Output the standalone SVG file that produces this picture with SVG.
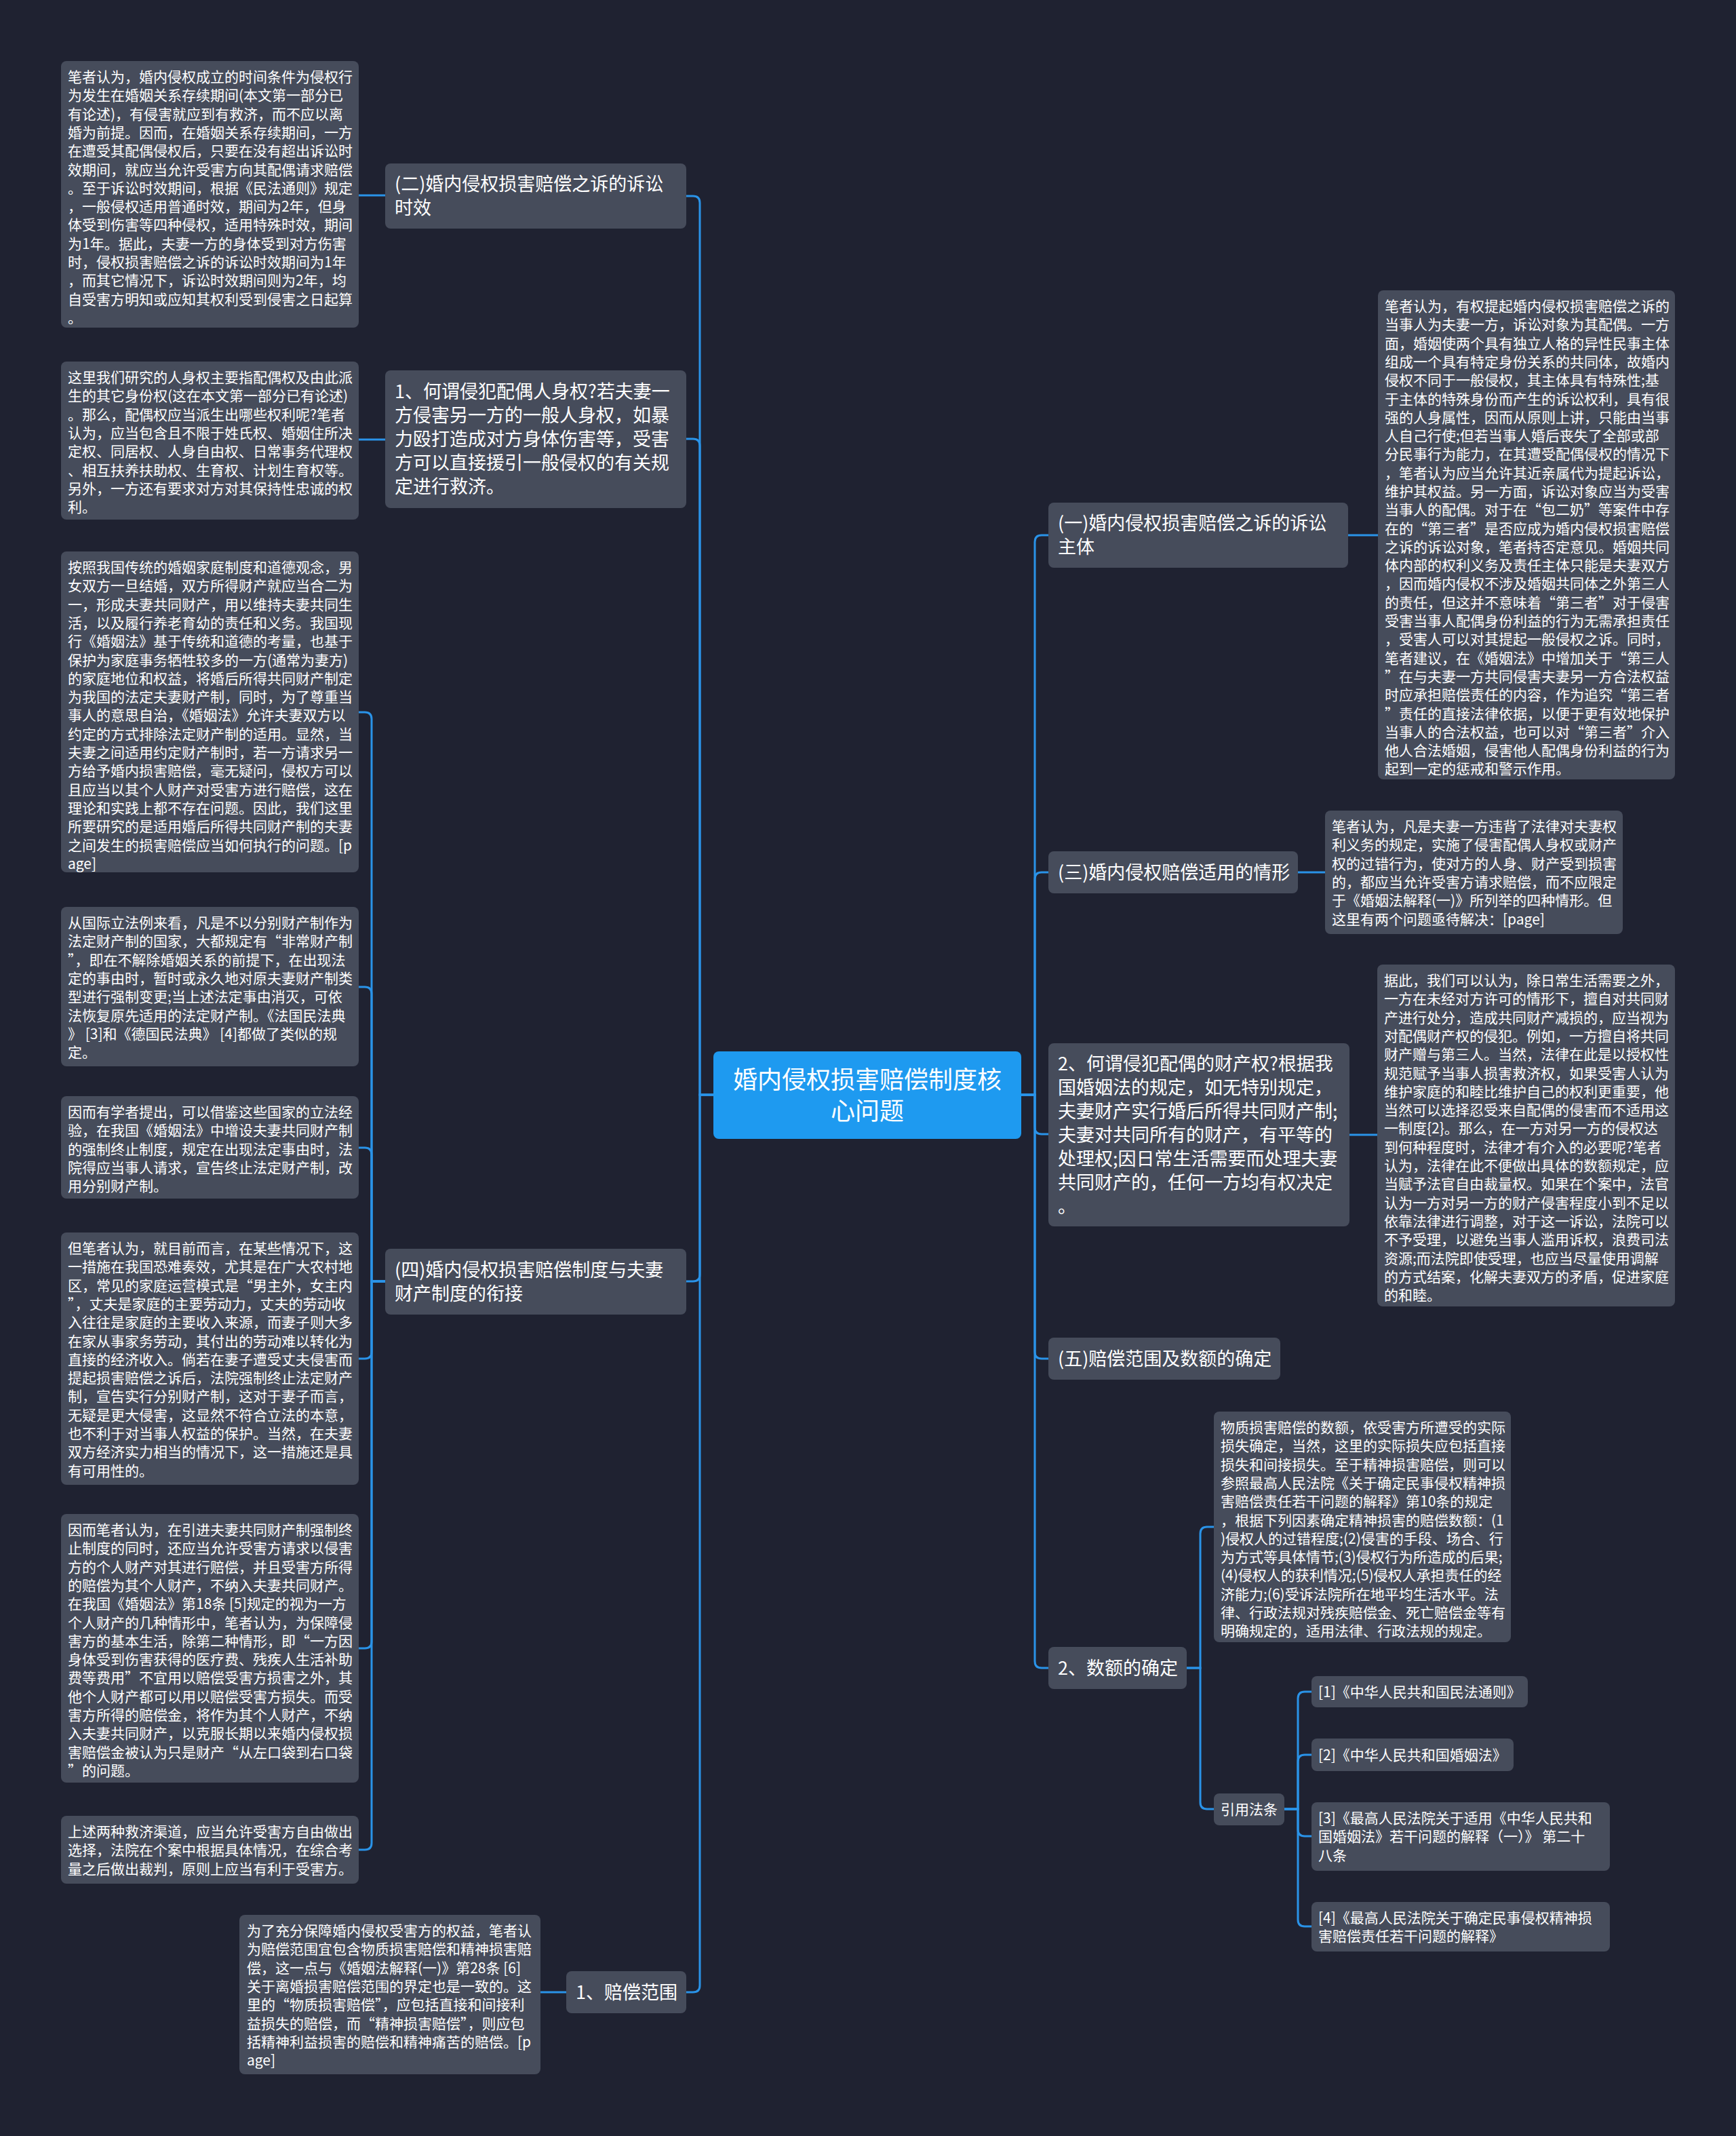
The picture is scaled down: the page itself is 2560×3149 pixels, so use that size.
<svg xmlns="http://www.w3.org/2000/svg" width="2560" height="3149" viewBox="0 0 2560 3149">
<style>
.bg{fill:#1f2231}
.n rect{fill:#464c5b}
.c rect{fill:#1e9af0}
text{font-family:"Noto Sans CJK SC","Noto Sans",sans-serif;fill:#ffffff}
.s{font-size:21px}
.m{font-size:27px}
.b{font-size:36px}
.e path{fill:none;stroke:#2a93e8;stroke-width:3}
</style>
<rect class="bg" x="0" y="0" width="2560" height="3149"/>
<g class="e" id="connectors">
<path d="M1052,1614H1032V299Q1032,289 1022,289H1012"/>
<path d="M1052,1614H1032V657Q1032,647 1022,647H1012"/>
<path d="M1052,1614H1032V1879Q1032,1889 1022,1889H1012"/>
<path d="M1052,1614H1032V2927Q1032,2937 1022,2937H1012"/>
<path d="M1506,1614H1526V799Q1526,789 1536,789H1546"/>
<path d="M1506,1614H1526V1296Q1526,1286 1536,1286H1546"/>
<path d="M1506,1614H1526V1662Q1526,1672 1536,1672H1546"/>
<path d="M1506,1614H1526V1993Q1526,2003 1536,2003H1546"/>
<path d="M1506,1614H1526V2449Q1526,2459 1536,2459H1546"/>
<path d="M568,288H529"/>
<path d="M568,648H529"/>
<path d="M835,2937H797"/>
<path d="M1988,789H2032"/>
<path d="M1914,1286H1954"/>
<path d="M1990,1673H2031"/>
<path d="M568,1889H548V1060Q548,1050 538,1050H529"/>
<path d="M568,1889H548V1465Q548,1455 538,1455H529"/>
<path d="M568,1889H548V1702Q548,1692 538,1692H529"/>
<path d="M568,1889H548V1993Q548,2003 538,2003H529"/>
<path d="M568,1889H548V2420Q548,2430 538,2430H529"/>
<path d="M568,1889H548V2717Q548,2727 538,2727H529"/>
<path d="M1750,2459H1770V2261Q1770,2251 1780,2251H1790"/>
<path d="M1750,2459H1770V2657Q1770,2667 1780,2667H1790"/>
<path d="M1894,2667H1914V2504Q1914,2494 1924,2494H1934"/>
<path d="M1894,2667H1914V2597Q1914,2587 1924,2587H1934"/>
<path d="M1894,2667H1914V2697Q1914,2707 1924,2707H1934"/>
<path d="M1894,2667H1914V2830Q1914,2840 1924,2840H1934"/>
</g>
<g class="c" id="center"><rect x="1052" y="1550" width="454" height="129" rx="8"/>
<text class="b" text-anchor="middle"><tspan x="1279" y="1605">婚内侵权损害赔偿制度核</tspan><tspan x="1279" y="1651">心问题</tspan></text></g>

<g class="n" id="l1-2"><rect x="568" y="241" width="444" height="96" rx="8"/>
<text class="m"><tspan x="582" y="281">(二)婚内侵权损害赔偿之诉的诉讼</tspan><tspan x="582" y="316">时效</tspan></text></g>
<g class="n" id="l1-person"><rect x="568" y="546" width="444" height="203" rx="8"/>
<text class="m"><tspan x="582" y="587">1、何谓侵犯配偶人身权?若夫妻一</tspan><tspan x="582" dy="35">方侵害另一方的一般人身权，如暴</tspan><tspan x="582" dy="35">力殴打造成对方身体伤害等，受害</tspan><tspan x="582" dy="35">方可以直接援引一般侵权的有关规</tspan><tspan x="582" dy="35">定进行救济。</tspan></text></g>
<g class="n" id="l1-4"><rect x="568" y="1841" width="444" height="97" rx="8"/>
<text class="m"><tspan x="582" y="1882">(四)婚内侵权损害赔偿制度与夫妻</tspan><tspan x="582" y="1917">财产制度的衔接</tspan></text></g>
<g class="n" id="l1-scope"><rect x="835" y="2906" width="177" height="62" rx="8"/>
<text class="m"><tspan x="849" y="2947">1、赔偿范围</tspan></text></g>
<g class="n" id="l1-1"><rect x="1546" y="741" width="442" height="96" rx="8"/>
<text class="m"><tspan x="1560" y="781">(一)婚内侵权损害赔偿之诉的诉讼</tspan><tspan x="1560" y="816">主体</tspan></text></g>
<g class="n" id="l1-3"><rect x="1546" y="1255" width="368" height="62" rx="8"/>
<text class="m"><tspan x="1560" y="1296">(三)婚内侵权赔偿适用的情形</tspan></text></g>
<g class="n" id="l1-property"><rect x="1546" y="1538" width="444" height="270" rx="8"/>
<text class="m"><tspan x="1560" y="1578">2、何谓侵犯配偶的财产权?根据我</tspan><tspan x="1560" dy="35">国婚姻法的规定，如无特别规定，</tspan><tspan x="1560" dy="35">夫妻财产实行婚后所得共同财产制;</tspan><tspan x="1560" dy="35">夫妻对共同所有的财产，有平等的</tspan><tspan x="1560" dy="35">处理权;因日常生活需要而处理夫妻</tspan><tspan x="1560" dy="35">共同财产的，任何一方均有权决定</tspan><tspan x="1560" dy="35">。</tspan></text></g>
<g class="n" id="l1-5"><rect x="1546" y="1972" width="342" height="62" rx="8"/>
<text class="m"><tspan x="1560" y="2013">(五)赔偿范围及数额的确定</tspan></text></g>
<g class="n" id="l1-amount"><rect x="1546" y="2428" width="204" height="62" rx="8"/>
<text class="m"><tspan x="1560" y="2469">2、数额的确定</tspan></text></g>

<g class="n" id="t1"><rect x="90" y="90" width="439" height="393" rx="8"/>
<text class="s"><tspan x="100" y="121">笔者认为，婚内侵权成立的时间条件为侵权行</tspan><tspan x="100" dy="27.3">为发生在婚姻关系存续期间(本文第一部分已</tspan><tspan x="100" dy="27.3">有论述)，有侵害就应到有救济，而不应以离</tspan><tspan x="100" dy="27.3">婚为前提。因而，在婚姻关系存续期间，一方</tspan><tspan x="100" dy="27.3">在遭受其配偶侵权后，只要在没有超出诉讼时</tspan><tspan x="100" dy="27.3">效期间，就应当允许受害方向其配偶请求赔偿</tspan><tspan x="100" dy="27.3">。至于诉讼时效期间，根据《民法通则》规定</tspan><tspan x="100" dy="27.3">，一般侵权适用普通时效，期间为2年，但身</tspan><tspan x="100" dy="27.3">体受到伤害等四种侵权，适用特殊时效，期间</tspan><tspan x="100" dy="27.3">为1年。据此，夫妻一方的身体受到对方伤害</tspan><tspan x="100" dy="27.3">时，侵权损害赔偿之诉的诉讼时效期间为1年</tspan><tspan x="100" dy="27.3">，而其它情况下，诉讼时效期间则为2年，均</tspan><tspan x="100" dy="27.3">自受害方明知或应知其权利受到侵害之日起算</tspan><tspan x="100" dy="27.3">。</tspan></text></g>
<g class="n" id="t2"><rect x="90" y="533" width="439" height="233" rx="8"/>
<text class="s"><tspan x="100" y="564">这里我们研究的人身权主要指配偶权及由此派</tspan><tspan x="100" dy="27.3">生的其它身份权(这在本文第一部分已有论述)</tspan><tspan x="100" dy="27.3">。那么，配偶权应当派生出哪些权利呢?笔者</tspan><tspan x="100" dy="27.3">认为，应当包含且不限于姓氏权、婚姻住所决</tspan><tspan x="100" dy="27.3">定权、同居权、人身自由权、日常事务代理权</tspan><tspan x="100" dy="27.3">、相互扶养扶助权、生育权、计划生育权等。</tspan><tspan x="100" dy="27.3">另外，一方还有要求对方对其保持性忠诚的权</tspan><tspan x="100" dy="27.3">利。</tspan></text></g>
<g class="n" id="t3"><rect x="90" y="813" width="439" height="473" rx="8"/>
<text class="s"><tspan x="100" y="844">按照我国传统的婚姻家庭制度和道德观念，男</tspan><tspan x="100" dy="27.3">女双方一旦结婚，双方所得财产就应当合二为</tspan><tspan x="100" dy="27.3">一，形成夫妻共同财产，用以维持夫妻共同生</tspan><tspan x="100" dy="27.3">活，以及履行养老育幼的责任和义务。我国现</tspan><tspan x="100" dy="27.3">行《婚姻法》基于传统和道德的考量，也基于</tspan><tspan x="100" dy="27.3">保护为家庭事务牺牲较多的一方(通常为妻方)</tspan><tspan x="100" dy="27.3">的家庭地位和权益，将婚后所得共同财产制定</tspan><tspan x="100" dy="27.3">为我国的法定夫妻财产制，同时，为了尊重当</tspan><tspan x="100" dy="27.3">事人的意思自治，《婚姻法》允许夫妻双方以</tspan><tspan x="100" dy="27.3">约定的方式排除法定财产制的适用。显然，当</tspan><tspan x="100" dy="27.3">夫妻之间适用约定财产制时，若一方请求另一</tspan><tspan x="100" dy="27.3">方给予婚内损害赔偿，毫无疑问，侵权方可以</tspan><tspan x="100" dy="27.3">且应当以其个人财产对受害方进行赔偿，这在</tspan><tspan x="100" dy="27.3">理论和实践上都不存在问题。因此，我们这里</tspan><tspan x="100" dy="27.3">所要研究的是适用婚后所得共同财产制的夫妻</tspan><tspan x="100" dy="27.3">之间发生的损害赔偿应当如何执行的问题。[p</tspan><tspan x="100" dy="27.3">age]</tspan></text></g>
<g class="n" id="t4"><rect x="90" y="1337" width="439" height="235" rx="8"/>
<text class="s"><tspan x="100" y="1368">从国际立法例来看，凡是不以分别财产制作为</tspan><tspan x="100" dy="27.3">法定财产制的国家，大都规定有“非常财产制</tspan><tspan x="100" dy="27.3">”，即在不解除婚姻关系的前提下，在出现法</tspan><tspan x="100" dy="27.3">定的事由时，暂时或永久地对原夫妻财产制类</tspan><tspan x="100" dy="27.3">型进行强制变更;当上述法定事由消灭，可依</tspan><tspan x="100" dy="27.3">法恢复原先适用的法定财产制。《法国民法典</tspan><tspan x="100" dy="27.3">》 [3]和《德国民法典》 [4]都做了类似的规</tspan><tspan x="100" dy="27.3">定。</tspan></text></g>
<g class="n" id="t5"><rect x="90" y="1616" width="439" height="151" rx="8"/>
<text class="s"><tspan x="100" y="1647">因而有学者提出，可以借鉴这些国家的立法经</tspan><tspan x="100" dy="27.3">验，在我国《婚姻法》中增设夫妻共同财产制</tspan><tspan x="100" dy="27.3">的强制终止制度，规定在出现法定事由时，法</tspan><tspan x="100" dy="27.3">院得应当事人请求，宣告终止法定财产制，改</tspan><tspan x="100" dy="27.3">用分别财产制。</tspan></text></g>
<g class="n" id="t6"><rect x="90" y="1817" width="439" height="372" rx="8"/>
<text class="s"><tspan x="100" y="1848">但笔者认为，就目前而言，在某些情况下，这</tspan><tspan x="100" dy="27.3">一措施在我国恐难奏效，尤其是在广大农村地</tspan><tspan x="100" dy="27.3">区，常见的家庭运营模式是“男主外，女主内</tspan><tspan x="100" dy="27.3">”，丈夫是家庭的主要劳动力，丈夫的劳动收</tspan><tspan x="100" dy="27.3">入往往是家庭的主要收入来源，而妻子则大多</tspan><tspan x="100" dy="27.3">在家从事家务劳动，其付出的劳动难以转化为</tspan><tspan x="100" dy="27.3">直接的经济收入。倘若在妻子遭受丈夫侵害而</tspan><tspan x="100" dy="27.3">提起损害赔偿之诉后，法院强制终止法定财产</tspan><tspan x="100" dy="27.3">制，宣告实行分别财产制，这对于妻子而言，</tspan><tspan x="100" dy="27.3">无疑是更大侵害，这显然不符合立法的本意，</tspan><tspan x="100" dy="27.3">也不利于对当事人权益的保护。当然，在夫妻</tspan><tspan x="100" dy="27.3">双方经济实力相当的情况下，这一措施还是具</tspan><tspan x="100" dy="27.3">有可用性的。</tspan></text></g>
<g class="n" id="t7"><rect x="90" y="2232" width="439" height="396" rx="8"/>
<text class="s"><tspan x="100" y="2263">因而笔者认为，在引进夫妻共同财产制强制终</tspan><tspan x="100" dy="27.3">止制度的同时，还应当允许受害方请求以侵害</tspan><tspan x="100" dy="27.3">方的个人财产对其进行赔偿，并且受害方所得</tspan><tspan x="100" dy="27.3">的赔偿为其个人财产，不纳入夫妻共同财产。</tspan><tspan x="100" dy="27.3">在我国《婚姻法》第18条 [5]规定的视为一方</tspan><tspan x="100" dy="27.3">个人财产的几种情形中，笔者认为，为保障侵</tspan><tspan x="100" dy="27.3">害方的基本生活，除第二种情形，即“一方因</tspan><tspan x="100" dy="27.3">身体受到伤害获得的医疗费、残疾人生活补助</tspan><tspan x="100" dy="27.3">费等费用”不宜用以赔偿受害方损害之外，其</tspan><tspan x="100" dy="27.3">他个人财产都可以用以赔偿受害方损失。而受</tspan><tspan x="100" dy="27.3">害方所得的赔偿金，将作为其个人财产，不纳</tspan><tspan x="100" dy="27.3">入夫妻共同财产，以克服长期以来婚内侵权损</tspan><tspan x="100" dy="27.3">害赔偿金被认为只是财产“从左口袋到右口袋</tspan><tspan x="100" dy="27.3">”的问题。</tspan></text></g>
<g class="n" id="t8"><rect x="90" y="2677" width="439" height="100" rx="8"/>
<text class="s"><tspan x="100" y="2708">上述两种救济渠道，应当允许受害方自由做出</tspan><tspan x="100" dy="27.3">选择，法院在个案中根据具体情况，在综合考</tspan><tspan x="100" dy="27.3">量之后做出裁判，原则上应当有利于受害方。</tspan></text></g>
<g class="n" id="t9"><rect x="353" y="2823" width="444" height="235" rx="8"/>
<text class="s"><tspan x="364" y="2854">为了充分保障婚内侵权受害方的权益，笔者认</tspan><tspan x="364" dy="27.3">为赔偿范围宜包含物质损害赔偿和精神损害赔</tspan><tspan x="364" dy="27.3">偿，这一点与《婚姻法解释(一)》第28条 [6]</tspan><tspan x="364" dy="27.3">关于离婚损害赔偿范围的界定也是一致的。这</tspan><tspan x="364" dy="27.3">里的“物质损害赔偿”，应包括直接和间接利</tspan><tspan x="364" dy="27.3">益损失的赔偿，而“精神损害赔偿”，则应包</tspan><tspan x="364" dy="27.3">括精神利益损害的赔偿和精神痛苦的赔偿。[p</tspan><tspan x="364" dy="27.3">age]</tspan></text></g>

<g class="n" id="r1"><rect x="2032" y="428" width="438" height="721" rx="8"/>
<text class="s"><tspan x="2042" y="459">笔者认为，有权提起婚内侵权损害赔偿之诉的</tspan><tspan x="2042" dy="27.3">当事人为夫妻一方，诉讼对象为其配偶。一方</tspan><tspan x="2042" dy="27.3">面，婚姻使两个具有独立人格的异性民事主体</tspan><tspan x="2042" dy="27.3">组成一个具有特定身份关系的共同体，故婚内</tspan><tspan x="2042" dy="27.3">侵权不同于一般侵权，其主体具有特殊性;基</tspan><tspan x="2042" dy="27.3">于主体的特殊身份而产生的诉讼权利，具有很</tspan><tspan x="2042" dy="27.3">强的人身属性，因而从原则上讲，只能由当事</tspan><tspan x="2042" dy="27.3">人自己行使;但若当事人婚后丧失了全部或部</tspan><tspan x="2042" dy="27.3">分民事行为能力，在其遭受配偶侵权的情况下</tspan><tspan x="2042" dy="27.3">，笔者认为应当允许其近亲属代为提起诉讼，</tspan><tspan x="2042" dy="27.3">维护其权益。另一方面，诉讼对象应当为受害</tspan><tspan x="2042" dy="27.3">当事人的配偶。对于在“包二奶”等案件中存</tspan><tspan x="2042" dy="27.3">在的“第三者”是否应成为婚内侵权损害赔偿</tspan><tspan x="2042" dy="27.3">之诉的诉讼对象，笔者持否定意见。婚姻共同</tspan><tspan x="2042" dy="27.3">体内部的权利义务及责任主体只能是夫妻双方</tspan><tspan x="2042" dy="27.3">，因而婚内侵权不涉及婚姻共同体之外第三人</tspan><tspan x="2042" dy="27.3">的责任，但这并不意味着“第三者”对于侵害</tspan><tspan x="2042" dy="27.3">受害当事人配偶身份利益的行为无需承担责任</tspan><tspan x="2042" dy="27.3">，受害人可以对其提起一般侵权之诉。同时，</tspan><tspan x="2042" dy="27.3">笔者建议，在《婚姻法》中增加关于“第三人</tspan><tspan x="2042" dy="27.3">”在与夫妻一方共同侵害夫妻另一方合法权益</tspan><tspan x="2042" dy="27.3">时应承担赔偿责任的内容，作为追究“第三者</tspan><tspan x="2042" dy="27.3">”责任的直接法律依据，以便于更有效地保护</tspan><tspan x="2042" dy="27.3">当事人的合法权益，也可以对“第三者”介入</tspan><tspan x="2042" dy="27.3">他人合法婚姻，侵害他人配偶身份利益的行为</tspan><tspan x="2042" dy="27.3">起到一定的惩戒和警示作用。</tspan></text></g>
<g class="n" id="r2"><rect x="1954" y="1195" width="439" height="182" rx="8"/>
<text class="s"><tspan x="1964" y="1226">笔者认为，凡是夫妻一方违背了法律对夫妻权</tspan><tspan x="1964" dy="27.3">利义务的规定，实施了侵害配偶人身权或财产</tspan><tspan x="1964" dy="27.3">权的过错行为，使对方的人身、财产受到损害</tspan><tspan x="1964" dy="27.3">的，都应当允许受害方请求赔偿，而不应限定</tspan><tspan x="1964" dy="27.3">于《婚姻法解释(一)》所列举的四种情形。但</tspan><tspan x="1964" dy="27.3">这里有两个问题亟待解决：[page]</tspan></text></g>
<g class="n" id="r3"><rect x="2031" y="1422" width="439" height="504" rx="8"/>
<text class="s"><tspan x="2041" y="1453">据此，我们可以认为，除日常生活需要之外，</tspan><tspan x="2041" dy="27.3">一方在未经对方许可的情形下，擅自对共同财</tspan><tspan x="2041" dy="27.3">产进行处分，造成共同财产减损的，应当视为</tspan><tspan x="2041" dy="27.3">对配偶财产权的侵犯。例如，一方擅自将共同</tspan><tspan x="2041" dy="27.3">财产赠与第三人。当然，法律在此是以授权性</tspan><tspan x="2041" dy="27.3">规范赋予当事人损害救济权，如果受害人认为</tspan><tspan x="2041" dy="27.3">维护家庭的和睦比维护自己的权利更重要，他</tspan><tspan x="2041" dy="27.3">当然可以选择忍受来自配偶的侵害而不适用这</tspan><tspan x="2041" dy="27.3">一制度{2}。那么，在一方对另一方的侵权达</tspan><tspan x="2041" dy="27.3">到何种程度时，法律才有介入的必要呢?笔者</tspan><tspan x="2041" dy="27.3">认为，法律在此不便做出具体的数额规定，应</tspan><tspan x="2041" dy="27.3">当赋予法官自由裁量权。如果在个案中，法官</tspan><tspan x="2041" dy="27.3">认为一方对另一方的财产侵害程度小到不足以</tspan><tspan x="2041" dy="27.3">依靠法律进行调整，对于这一诉讼，法院可以</tspan><tspan x="2041" dy="27.3">不予受理，以避免当事人滥用诉权，浪费司法</tspan><tspan x="2041" dy="27.3">资源;而法院即使受理，也应当尽量使用调解</tspan><tspan x="2041" dy="27.3">的方式结案，化解夫妻双方的矛盾，促进家庭</tspan><tspan x="2041" dy="27.3">的和睦。</tspan></text></g>
<g class="n" id="r4"><rect x="1790" y="2081" width="438" height="340" rx="8"/>
<text class="s"><tspan x="1800" y="2112">物质损害赔偿的数额，依受害方所遭受的实际</tspan><tspan x="1800" dy="27.3">损失确定，当然，这里的实际损失应包括直接</tspan><tspan x="1800" dy="27.3">损失和间接损失。至于精神损害赔偿，则可以</tspan><tspan x="1800" dy="27.3">参照最高人民法院《关于确定民事侵权精神损</tspan><tspan x="1800" dy="27.3">害赔偿责任若干问题的解释》第10条的规定</tspan><tspan x="1800" dy="27.3">，根据下列因素确定精神损害的赔偿数额：(1</tspan><tspan x="1800" dy="27.3">)侵权人的过错程度;(2)侵害的手段、场合、行</tspan><tspan x="1800" dy="27.3">为方式等具体情节;(3)侵权行为所造成的后果;</tspan><tspan x="1800" dy="27.3">(4)侵权人的获利情况;(5)侵权人承担责任的经</tspan><tspan x="1800" dy="27.3">济能力;(6)受诉法院所在地平均生活水平。法</tspan><tspan x="1800" dy="27.3">律、行政法规对残疾赔偿金、死亡赔偿金等有</tspan><tspan x="1800" dy="27.3">明确规定的，适用法律、行政法规的规定。</tspan></text></g>
<g class="n" id="cite"><rect x="1790" y="2644" width="104" height="47" rx="8"/>
<text class="s"><tspan x="1800" y="2675">引用法条</tspan></text></g>
<g class="n" id="ref1"><rect x="1934" y="2471" width="319" height="46" rx="8"/>
<text class="s"><tspan x="1944" y="2502">[1]《中华人民共和国民法通则》</tspan></text></g>
<g class="n" id="ref2"><rect x="1934" y="2563" width="298" height="48" rx="8"/>
<text class="s"><tspan x="1944" y="2595">[2]《中华人民共和国婚姻法》</tspan></text></g>
<g class="n" id="ref3"><rect x="1934" y="2657" width="440" height="101" rx="8"/>
<text class="s"><tspan x="1944" y="2688">[3]《最高人民法院关于适用《中华人民共和</tspan><tspan x="1944" dy="27.3">国婚姻法》若干问题的解释（一）》 第二十</tspan><tspan x="1944" dy="27.3">八条</tspan></text></g>
<g class="n" id="ref4"><rect x="1934" y="2804" width="440" height="73" rx="8"/>
<text class="s"><tspan x="1944" y="2835">[4]《最高人民法院关于确定民事侵权精神损</tspan><tspan x="1944" dy="27.3">害赔偿责任若干问题的解释》</tspan></text></g>
</svg>
